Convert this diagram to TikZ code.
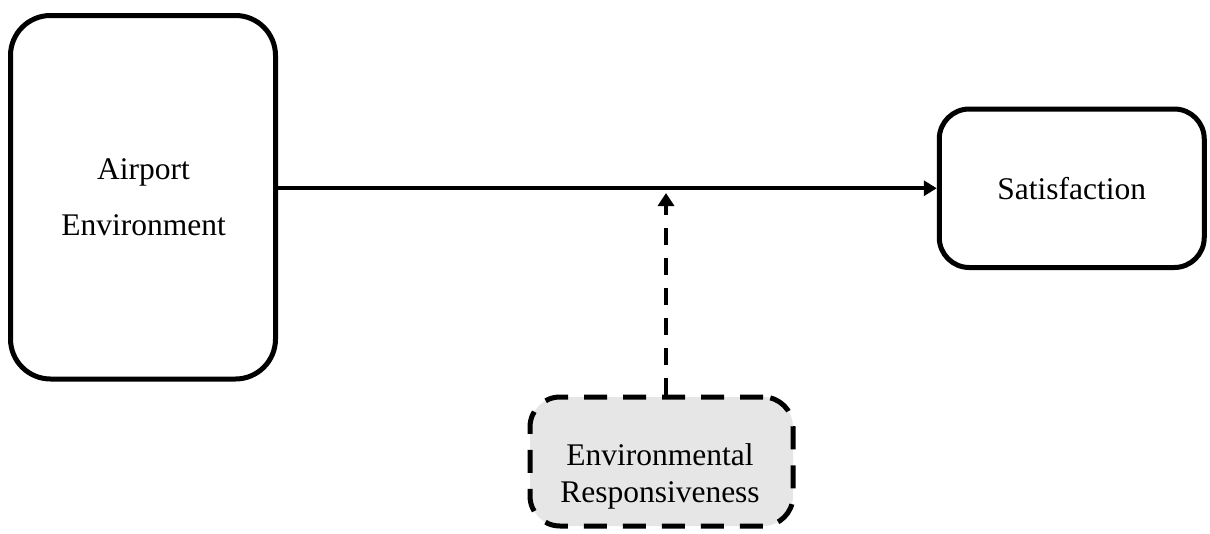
\documentclass[tikz,border=0pt]{standalone}
\usepackage{fontspec}
\setmainfont{Liberation Serif}
\usetikzlibrary{arrows.meta}
\definecolor{shade}{RGB}{230,230,230}
\tikzset{
  box/.style={draw, line width=5pt, rounded corners=#1, inner sep=0pt},
  label/.style={font=\fontsize{31.5pt}{37pt}\selectfont, inner sep=0pt, anchor=base},
  link/.style={line width=4pt, -{Triangle[length=13pt,width=15pt]}},
}
\begin{document}
\begin{tikzpicture}[x=1pt,y=-1pt]
  \useasboundingbox (0,0) rectangle (1210,533);

  % independent variable
  \node[box=40pt, minimum width=265pt, minimum height=363.5pt] (air) at (143,197.25) {};
  \node[label] (air1) at (143.5,179) {Airport};
  \node[label] (air2) at (143.5,235) {Environment};

  % outcome
  \node[box=30pt, minimum width=265pt, minimum height=158.5pt,
        font=\fontsize{31.5pt}{37pt}\selectfont] (sat) at (1071.75,188.25) {Satisfaction};

  % moderator
  \node[box=30pt, dash pattern=on 23pt off 16pt, fill=shade,
        minimum width=263pt, minimum height=129pt] (resp) at (661.5,461.5) {};
  \node[label] (resp1) at (660,465) {Environmental};
  \node[label] (resp2) at (660,502) {Responsiveness};

  % main effect
  \coordinate (m) at (666,193);
  \draw[link] (sat.west -| air.east) -- (sat.west);
  % moderating effect
  \draw[link, dash pattern=on 17pt off 13pt, -{Triangle[length=13pt,width=16pt]}]
    (resp.north -| m) -- (m);
\end{tikzpicture}
\end{document}
